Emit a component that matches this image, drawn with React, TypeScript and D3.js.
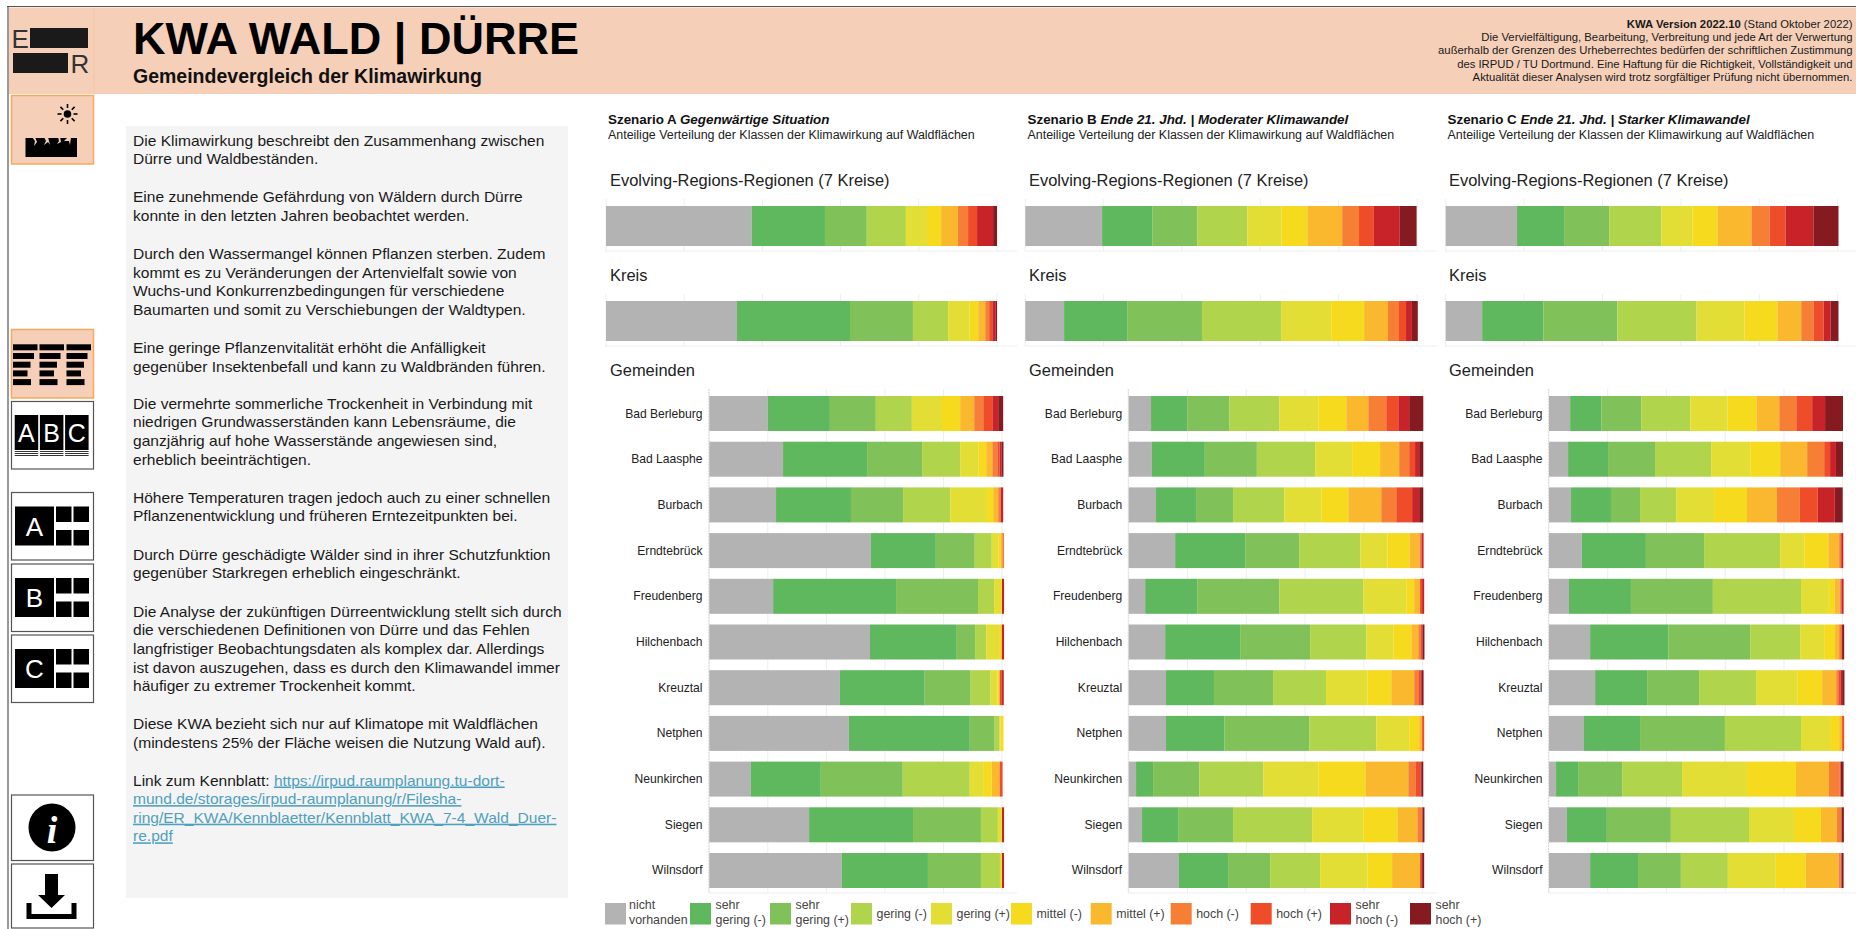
import React from "react";
import * as d3 from "d3";

const classKeys = ["nicht vorhanden","sehr gering (-)","sehr gering (+)","gering (-)","gering (+)","mittel (-)","mittel (+)","hoch (-)","hoch (+)","sehr hoch (-)","sehr hoch (+)"];
const classColors = ["#b3b3b3","#5fb85d","#80c259","#b0d44c","#e3de35","#f6da1e","#fab82e","#f67f35","#ef4d2a","#c9232a","#851a20"];
const gemeinden = ["Bad Berleburg","Bad Laasphe","Burbach","Erndtebrück","Freudenberg","Hilchenbach","Kreuztal","Netphen","Neunkirchen","Siegen","Wilnsdorf"];

const regionA = [37.3,18.7,10.7,10.0,5.4,3.6,4.3,2.6,2.3,4.1,1.0];
const kreisA = [33.5,28.9,16.1,9.0,5.5,2.2,1.8,1.0,0.8,0.9,0.3];
const gemeindenA = [
  [20.0,21.2,15.7,12.3,10.3,6.2,4.8,3.1,3.1,2.0,1.7],
  [25.2,28.7,18.8,13.0,6.2,2.7,2.1,1.7,0.8,0.6,0.7],
  [22.8,25.6,17.8,16.1,12.6,2.1,1.7,0.7,0.2,0.8,0],
  [55.2,22.2,13.3,5.8,2.4,0.7,0.5,0.6,0,0,0],
  [21.8,42.0,28.0,5.5,2.4,0.3,0,0,0,0.7,0],
  [54.9,29.4,6.5,3.8,4.4,0.7,0.3,0,0,0.7,0],
  [44.6,29.0,15.7,6.8,2.4,0.7,0,0,0.6,0.8,0],
  [47.7,41.3,8.5,1.7,0.3,1.0,0,0,0,0,0],
  [14.2,23.9,28.0,22.9,4.8,2.7,2.7,0,1.0,0,0],
  [34.1,35.5,23.2,5.8,1.4,0,0,0,0,0.7,0],
  [45.3,29.4,18.1,6.5,0.7,0,0,0,0,0.7,0],
];

const regionB = [19.6,12.8,11.5,12.8,8.7,6.6,8.9,4.3,3.8,6.6,4.3];
const kreisB = [9.9,16.1,19.1,20.2,12.8,8.4,6.1,2.8,1.8,1.5,1.5];
const gemeindenB = [
  [7.6,12.3,14.3,17.0,13.3,9.5,7.5,6.1,4.1,3.7,4.8],
  [7.9,18.0,17.7,19.8,12.6,9.5,6.5,3.4,2.0,1.4,1.4],
  [9.3,13.6,12.6,17.4,12.6,9.2,11.2,5.1,5.4,2.4,1.4],
  [15.8,23.8,18.4,20.8,9.2,7.5,3.4,0.7,0,0.7,0],
  [5.6,17.7,27.9,28.6,14.6,2.7,2.0,0,0.7,0.7,0],
  [12.4,25.5,23.8,19.1,9.2,6.1,2.4,0.7,0.7,0,0.7],
  [12.7,16.3,20.1,18.0,14.1,8.1,7.8,1.4,0.7,0.5,0.6],
  [12.7,19.8,28.9,22.8,11.2,3.4,1.0,0,0.7,0,0],
  [2.5,5.8,15.7,21.8,18.7,16.0,14.6,2.4,1.7,0.3,0.7],
  [4.5,12.3,18.7,26.9,17.4,11.6,6.8,1.7,0,0,0.7],
  [17.1,16.7,14.3,17.0,16.1,8.4,9.5,0,0.4,0.3,0.7],
];

const regionC = [18.2,12.0,11.5,13.3,7.9,6.4,8.7,4.6,4.1,7.1,6.4];
const kreisC = [9.3,15.6,18.9,20.2,12.2,8.4,6.1,3.1,2.6,1.8,2.0];
const gemeindenC = [
  [7.2,10.6,13.6,16.7,12.7,9.8,7.8,5.8,5.4,4.4,6.1],
  [6.5,13.6,16.0,19.1,13.3,10.2,9.2,5.8,2.0,2.0,2.4],
  [7.5,13.6,9.9,12.3,12.9,11.2,10.2,7.8,6.1,5.8,2.7],
  [11.2,21.8,19.8,25.9,8.2,8.2,3.7,0.7,0,0.7,0],
  [6.8,21.1,27.9,30.0,9.5,2.0,1.7,0.3,0.3,0.7,0],
  [14.0,26.6,27.9,17.0,8.2,3.7,1.4,0.7,0.3,0,0.7],
  [15.7,17.7,17.7,19.4,14.2,8.3,4.8,0.7,0.7,0.6,0.8],
  [11.9,19.1,28.9,25.9,9.9,3.1,1.0,0,0.7,0,0],
  [2.4,7.5,15.0,20.4,22.1,16.7,11.2,3.7,0.3,0,1.0],
  [6.1,13.6,21.8,26.6,15.3,9.2,5.4,1.6,0,0,0.8],
  [14.0,16.3,14.6,16.0,16.3,10.2,11.2,0.7,0.3,0,0.7],
];

const scenarioHeads = [
  { bold: "Szenario A ", italic: "Gegenwärtige Situation" },
  { bold: "Szenario B ", italic: "Ende 21. Jhd. | Moderater Klimawandel" },
  { bold: "Szenario C ", italic: "Ende 21. Jhd. | Starker Klimawandel" },
];
const subHead = "Anteilige Verteilung der Klassen der Klimawirkung auf Waldflächen";
const sectionTitles = ["Evolving-Regions-Regionen (7 Kreise)", "Kreis", "Gemeinden"];

const legendLabels = [["nicht","vorhanden"],["sehr","gering (-)"],["sehr","gering (+)"],["gering (-)"],["gering (+)"],["mittel (-)"],["mittel (+)"],["hoch (-)"],["hoch (+)"],["sehr","hoch (-)"],["sehr","hoch (+)"]];

const paragraphs = [
  ["Die Klimawirkung beschreibt den Zusammenhang zwischen","Dürre und Waldbeständen."],
  ["Eine zunehmende Gefährdung von Wäldern durch Dürre","konnte in den letzten Jahren beobachtet werden."],
  ["Durch den Wassermangel können Pflanzen sterben. Zudem","kommt es zu Veränderungen der Artenvielfalt sowie von","Wuchs-und Konkurrenzbedingungen für verschiedene","Baumarten und somit zu Verschiebungen der Waldtypen."],
  ["Eine geringe Pflanzenvitalität erhöht die Anfälligkeit","gegenüber Insektenbefall und kann zu Waldbränden führen."],
  ["Die vermehrte sommerliche Trockenheit in Verbindung mit","niedrigen Grundwasserständen kann Lebensräume, die","ganzjährig auf hohe Wasserstände angewiesen sind,","erheblich beeinträchtigen."],
  ["Höhere Temperaturen tragen jedoch auch zu einer schnellen","Pflanzenentwicklung und früheren Erntezeitpunkten bei."],
  ["Durch Dürre geschädigte Wälder sind in ihrer Schutzfunktion","gegenüber Starkregen erheblich eingeschränkt."],
  ["Die Analyse der zukünftigen Dürreentwicklung stellt sich durch","die verschiedenen Definitionen von Dürre und das Fehlen","langfristiger Beobachtungsdaten als komplex dar. Allerdings","ist davon auszugehen, dass es durch den Klimawandel immer","häufiger zu extremer Trockenheit kommt."],
  ["Diese KWA bezieht sich nur auf Klimatope mit Waldflächen","(mindestens 25% der Fläche weisen die Nutzung Wald auf)."],
];
const linkLead = "Link zum Kennblatt: ";
const linkLines = ["https://irpud.raumplanung.tu-dort-","mund.de/storages/irpud-raumplanung/r/Filesha-","ring/ER_KWA/Kennblaetter/Kennblatt_KWA_7-4_Wald_Duer-","re.pdf"];
const noticeLines = ["Die Vervielfältigung, Bearbeitung, Verbreitung und jede Art der Verwertung","außerhalb der Grenzen des Urheberrechtes bedürfen der schriftlichen Zustimmung","des IRPUD / TU Dortmund. Eine Haftung für die Richtigkeit, Vollständigkeit und","Aktualität dieser Analysen wird trotz sorgfältiger Prüfung nicht übernommen."];

// layout
const FONT = "'Liberation Sans', Arial, sans-serif";
const PEACH = "#f5cfb8";
const ORANGE = "#f9a85c";
const GRID = "#eeeeee";
const paraY = [145.5, 202, 259, 353, 408.5, 502.5, 559.5, 616.5, 729];
const paraLH = 18.7;
const panels = [
  { values: [regionA, kreisA, gemeindenA], headX: 608, titleX: 610, sx0: 606, sx1: 997, gx0: 709.3, gx1: 1002, labelX: 702.5, gridEnd: 1017 },
  { values: [regionB, kreisB, gemeindenB], headX: 1027.5, titleX: 1029, sx0: 1025.3, sx1: 1417, gx0: 1128.7, gx1: 1422.7, labelX: 1122.2, gridEnd: 1437 },
  { values: [regionC, kreisC, gemeindenC], headX: 1447.5, titleX: 1449, sx0: 1445.7, sx1: 1837.7, gx0: 1549, gx1: 1842.7, labelX: 1542.5, gridEnd: 1857 },
];
const legendX = [605, 690, 770, 851, 931, 1011, 1090.7, 1170.7, 1250.7, 1330, 1410];

const stackGen = d3.stack<number[]>().keys(classKeys.map((_, i) => String(i))).value((d, k) => d[+k]);

function StackBar({ row, x, y, h }: { row: number[]; x: d3.ScaleLinear<number, number>; y: number; h: number }) {
  const series = stackGen([row]);
  return (
    <g>
      {series.map((s, i) =>
        s[0][1] > s[0][0] ? (
          <rect key={i} x={x(s[0][0])} y={y} width={x(s[0][1]) - x(s[0][0])} height={h} fill={classColors[i]} />
        ) : null
      )}
    </g>
  );
}

function Panel({ p, idx }: { p: (typeof panels)[number]; idx: number }) {
  const sx = d3.scaleLinear().domain([0, 100]).range([p.sx0, p.sx1]);
  const gx = d3.scaleLinear().domain([0, 100]).range([p.gx0, p.gx1]);
  const gy = d3.scaleBand<string>().domain(gemeinden).range([396, 888]).paddingInner(0.234);
  const summary = [
    { top: 199, barY: 206, titleY: 186 },
    { top: 294, barY: 301, titleY: 281 },
  ];
  const [reg, kre, gem] = p.values as [number[], number[], number[][]];
  return (
    <g fontFamily={FONT}>
      <text x={p.headX} y={124} fontSize={13.4} fill="#111">
        <tspan fontWeight="bold">{scenarioHeads[idx].bold}</tspan>
        <tspan fontWeight="bold" fontStyle="italic">{scenarioHeads[idx].italic}</tspan>
      </text>
      <text x={p.headX} y={139} fontSize={12.45} fill="#222">{subHead}</text>
      {summary.map((s, i) => (
        <g key={i}>
          <text x={p.titleX} y={s.titleY} fontSize={16.45} fill="#222">{sectionTitles[i]}</text>
          {sx.ticks(5).map((t) => (
            <line key={t} x1={sx(t)} x2={sx(t)} y1={s.top} y2={s.top + 52} stroke={GRID} />
          ))}
          <line x1={p.sx0 - 1} x2={p.gridEnd} y1={s.top + 52} y2={s.top + 52} stroke={GRID} />
          <StackBar row={i === 0 ? reg : kre} x={sx} y={s.barY} h={40} />
        </g>
      ))}
      <text x={p.titleX} y={376} fontSize={16.45} fill="#222">{sectionTitles[2]}</text>
      {gx.ticks(5).map((t) => (
        <line key={t} x1={gx(t)} x2={gx(t)} y1={389} y2={893} stroke={GRID} />
      ))}
      <line x1={gx(0) - 0.5} x2={gx(0) - 0.5} y1={389} y2={893} stroke="#ddd" strokeDasharray="2 1" />
      <line x1={gx(0) - 1} x2={p.gridEnd} y1={893} y2={893} stroke={GRID} />
      {gemeinden.map((name, i) => (
        <g key={name}>
          <StackBar row={gem[i]} x={gx} y={gy(name)!} h={gy.bandwidth()} />
          <text x={p.labelX} y={gy(name)! + gy.bandwidth() / 2 + 4} textAnchor="end" fontSize={12.1} fill="#222">{name}</text>
        </g>
      ))}
    </g>
  );
}

function IconBox({ y, h, active, children }: { y: number; h: number; active?: boolean; children: React.ReactNode }) {
  return (
    <g>
      <rect x={11.5} y={y} width={82} height={h} fill={active ? PEACH : "#fff"} stroke={active ? ORANGE : "#555"} strokeWidth={active ? 1.5 : 1.2} />
      {children}
    </g>
  );
}

function BigLetterIcon({ y, letter }: { y: number; letter: string }) {
  return (
    <IconBox y={y} h={67.5}>
      <rect x={15} y={y + 14} width={39} height={39} fill="#000" />
      <rect x={56} y={y + 14} width={15.5} height={15.5} fill="#000" />
      <rect x={73.5} y={y + 14} width={15.5} height={15.5} fill="#000" />
      <rect x={56} y={y + 37.5} width={15.5} height={15.5} fill="#000" />
      <rect x={73.5} y={y + 37.5} width={15.5} height={15.5} fill="#000" />
      <text x={34.5} y={y + 43} textAnchor="middle" fontSize={26} fill="#fff" fontFamily={FONT}>{letter}</text>
    </IconBox>
  );
}

const sunAngles = d3.range(8).map((i) => (i * Math.PI) / 4);
const barWidths = [24.5, 21, 17.5, 14.5, 18];
const barCols = [13, 39.5, 66.5];

function Sidebar() {
  return (
    <g fontFamily={FONT}>
      {/* logo */}
      <text x={11.5} y={48} fontSize={26} fill="#333">E</text>
      <rect x={30} y={28} width={58} height={20} fill="#1a1a1a" />
      <rect x={13} y={53} width={55} height={20} fill="#1a1a1a" />
      <text x={70.5} y={73} fontSize={26} fill="#333">R</text>
      {/* sun + ground */}
      <IconBox y={95.5} h={68.5} active>
        <circle cx={67.5} cy={114} r={3.8} fill="#000" />
        {sunAngles.map((a, i) => (
          <line key={i} x1={67.5 + 6 * Math.cos(a)} y1={114 + 6 * Math.sin(a)} x2={67.5 + 10 * Math.cos(a)} y2={114 + 10 * Math.sin(a)} stroke="#000" strokeWidth={1.6} />
        ))}
        <rect x={25.5} y={138} width={51.5} height={19} fill="#000" />
        <path d="M32 137l3 4-1 5 3-4-2-5zM44 137l2 4-2 4 4-3 2 3-2-8zM58 137l1 4-2 3 4-2-1-5zM68 137l-4 4 5 0 1 4 1-8z" fill={PEACH} />
      </IconBox>
      {/* bars */}
      <IconBox y={329.5} h={68.5} active>
        {barWidths.map((w, r) =>
          barCols.map((cx, c) => <rect key={`${r}-${c}`} x={cx} y={344.3 + r * 8.7} width={w} height={6} fill="#000" />)
        )}
      </IconBox>
      {/* ABC */}
      <IconBox y={401.5} h={67.5}>
        {["A", "B", "C"].map((l, i) => (
          <g key={l}>
            <rect x={14.7 + i * 25.2} y={415} width={23.5} height={35} fill="#000" />
            <text x={26.4 + i * 25.2} y={442} textAnchor="middle" fontSize={25} fill="#fff">{l}</text>
            {[451.5, 453.5, 455.5].map((yy) => (
              <line key={yy} x1={14.7 + i * 25.2} x2={38.2 + i * 25.2} y1={yy} y2={yy} stroke="#333" />
            ))}
          </g>
        ))}
      </IconBox>
      <BigLetterIcon y={492.5} letter="A" />
      <BigLetterIcon y={564} letter="B" />
      <BigLetterIcon y={635} letter="C" />
      {/* info */}
      <IconBox y={795} h={65.5}>
        <ellipse cx={52} cy={827.5} rx={23.5} ry={24} fill="#000" />
        <text x={52} y={842.5} textAnchor="middle" fontSize={38} fontStyle="italic" fontWeight="bold" fill="#fff" fontFamily="'Liberation Serif', serif">i</text>
      </IconBox>
      {/* download */}
      <IconBox y={864} h={64}>
        <path d="M45 874h13v21h7l-13.5 13-13.5-13h7z" fill="#000" />
        <path d="M26.5 903h5v11h40v-11h5v16h-50z" fill="#000" />
      </IconBox>
    </g>
  );
}

function TextPanel() {
  const baseLink = 785.5;
  return (
    <g fontFamily={FONT} fontSize={15.55} fill="#1a1a1a">
      <rect x={126} y={126} width={442} height={772} fill="#f4f4f4" />
      {paragraphs.map((lines, i) =>
        lines.map((l, j) => (
          <text key={`${i}-${j}`} x={133} y={paraY[i] + j * paraLH}>{l}</text>
        ))
      )}
      <text x={133} y={baseLink}>
        <tspan>{linkLead}</tspan>
        <tspan fill="#4f9fbe" textDecoration="underline">{linkLines[0]}</tspan>
      </text>
      {linkLines.slice(1).map((l, i) => (
        <text key={i} x={133} y={baseLink + (i + 1) * 18.6} fill="#4f9fbe" textDecoration="underline">{l}</text>
      ))}
    </g>
  );
}

function Legend() {
  return (
    <g fontFamily={FONT} fontSize={12.4} fill="#444">
      {classKeys.map((k, i) => {
        const lines = legendLabels[i];
        const x = legendX[i];
        const tx = x + (i === 0 ? 24 : 25.5);
        return (
          <g key={k}>
            <rect x={x} y={903} width={21} height={21.5} fill={classColors[i]} />
            {lines.length === 2 ? (
              <>
                <text x={tx} y={909}>{lines[0]}</text>
                <text x={tx} y={924}>{lines[1]}</text>
              </>
            ) : (
              <text x={tx} y={918}>{lines[0]}</text>
            )}
          </g>
        );
      })}
    </g>
  );
}

export default function App() {
  return (
    <svg width={1856} height={929} style={{ position: "absolute", left: 0, top: 0, display: "block", background: "#fff" }}>
      <line x1={7} x2={1856} y1={6.5} y2={6.5} stroke="#555" strokeWidth={1.2} />
      <line x1={8} x2={8} y1={6} y2={929} stroke="#555" strokeWidth={1.2} />
      <rect x={9} y={7.5} width={1847} height={86.5} fill={PEACH} />
      <line x1={94} x2={94} y1={8} y2={94} stroke="#f3c3a5" />
      <Sidebar />
      <text x={133} y={53.5} fontFamily={FONT} fontWeight="bold" fontSize={45} fill="#000">KWA WALD | DÜRRE</text>
      <text x={133} y={82.5} fontFamily={FONT} fontWeight="bold" fontSize={19.5} fill="#111">Gemeindevergleich der Klimawirkung</text>
      <g fontFamily={FONT} fontSize={11.3} fill="#1a1a1a" textAnchor="end">
        <text x={1852.5} y={27.5}>
          <tspan fontWeight="bold">KWA Version 2022.10</tspan>
          <tspan> (Stand Oktober 2022)</tspan>
        </text>
        {noticeLines.map((l, i) => (
          <text key={i} x={1852.5} y={41 + i * 13.4}>{l}</text>
        ))}
      </g>
      <TextPanel />
      {panels.map((p, i) => (
        <Panel key={i} p={p} idx={i} />
      ))}
      <Legend />
    </svg>
  );
}
